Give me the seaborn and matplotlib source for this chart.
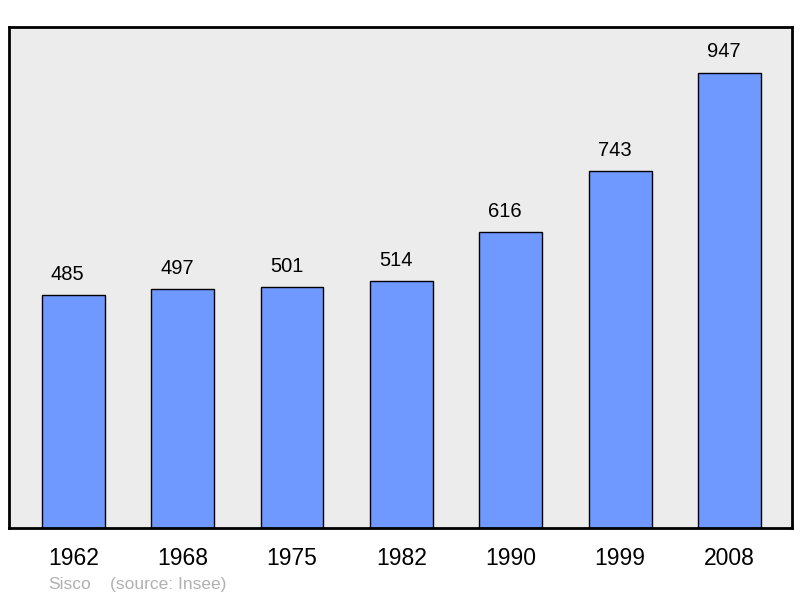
import matplotlib
matplotlib.use('Agg')
import matplotlib.pyplot as plt
import seaborn as sns
import pandas as pd

years = ['1962', '1968', '1975', '1982', '1990', '1999', '2008']
population = [485, 497, 501, 514, 616, 743, 947]

df = pd.DataFrame({'year': years, 'pop': population})

sns.set_theme(style='white')
plt.rcParams['font.family'] = ['Liberation Sans', 'DejaVu Sans']

fig = plt.figure(figsize=(8, 5.98), dpi=100)
ax = fig.add_axes([0.0115, 0.117, 0.9785, 0.838])
ax.set_facecolor('#ececec')

sns.barplot(data=df, x='year', y='pop', color='#7099ff', saturation=1,
            width=0.575, edgecolor='black', linewidth=1, ax=ax)

# value labels sit a little left of bar centre, like the original
for i, v in enumerate(population):
    ax.annotate(str(v), (i, v), xytext=(-4, 8), textcoords='offset points',
                ha='center', va='bottom', fontsize=14.5, color='black')

ax.set_ylim(0, 1042)
ax.set_xlim(-0.585, 6.57)
ax.set_yticks([])
ax.set_xlabel('')
ax.set_ylabel('')
ax.tick_params(axis='x', length=0, pad=14, labelsize=16.5, colors='black')
for s in ax.spines.values():
    s.set_visible(True)
    s.set_color('black')
    s.set_linewidth(2)

fig.text(0.06, 0.01, 'Sisco', fontsize=12.5, color='#b0b0b0', ha='left', va='bottom')
fig.text(0.138, 0.01, '(source: Insee)', fontsize=12.5, color='#b0b0b0', ha='left', va='bottom')

fig.savefig('out.png', dpi=100)
